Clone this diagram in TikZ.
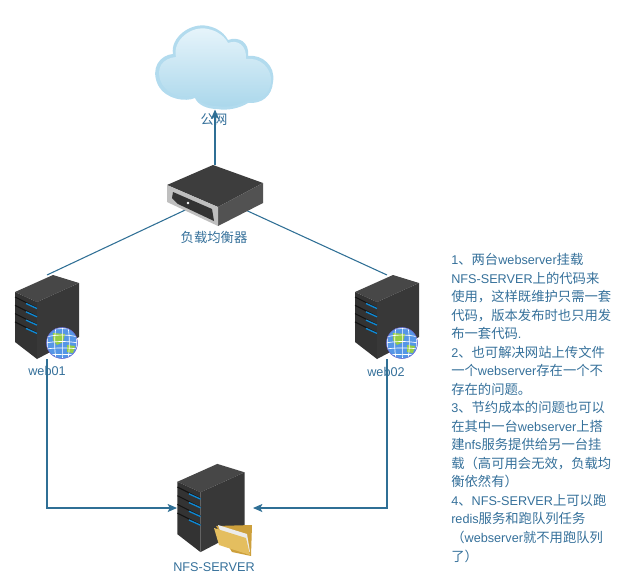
\documentclass[tikz,border=0pt]{standalone}
\usepackage{fontspec}
\setmainfont{Noto Sans CJK SC}
\newfontfamily\lat[Scale=0.95]{Liberation Sans}
\usetikzlibrary{arrows.meta}
\definecolor{linkblue}{HTML}{2F6F95}
\definecolor{textblue}{HTML}{35709A}
\tikzset{
  iconbox/.style={inner sep=0pt,outer sep=0pt},
  conn/.style={draw=linkblue,line width=0.8pt},
  tip/.style={-{Stealth[length=7pt,width=6pt,inset=1.5pt]}},
  caption/.style={inner sep=0.75pt,text=textblue,font=\fontsize{10}{12}\selectfont},
  pics/rack/.style={code={
    \begin{scope}[yscale=-1]
    %top, left and right faces
    \fill[fill=black!72] (6,-42) -- (-32,-25) -- (-10,-15) -- (32,-34) -- cycle;
    \fill[fill=black!80] (-32,-25) -- (-10,-15) -- (-10,42) -- (-32,25) -- cycle;
    \fill[fill=black!78] (-10,-15) -- (32,-34) -- (32,20) -- (-10,42) -- cycle;
    \foreach \k in {0,1,2,3}{
      \draw[black!92,line width=0.8pt] (-32,-20+\k*8.3) -- (-10,-9+\k*8.3);
      \draw[cyan!70!blue,line width=1pt] (-21,-13.5+\k*8.3) -- (-10,-8.5+\k*8.3);
    }
    \end{scope}
  }},
  pics/globe/.style={code={
    \begin{scope}[yscale=-1]
    \begin{scope}
    \clip (0,0) circle (15.5);
    \fill[fill={rgb,255:red,85;green,150;blue,230}] (-16,-16) rectangle (16,16);
    \fill[fill={rgb,255:red,150;green,205;blue,70}] (-9,-10) -- (3,-9) -- (1,-1) -- (-5,2) -- (-9,-3) -- cycle;
    \fill[fill={rgb,255:red,150;green,205;blue,70}] (5,2) -- (13,3) -- (11,10) -- (5,9) -- cycle;
    \foreach \k in {-12,-6,0,6,12}{
      \draw[white,line width=0.5pt] (-16,\k) .. controls (-6,\k*1.1-2) and (6,\k*1.1-2) .. (16,\k);
      \draw[white,line width=0.5pt] (\k,-16) .. controls (\k*1.3,-6) and (\k*1.3,6) .. (\k,16);
    }
    \end{scope}
    \draw[black!30!blue!60,line width=0.4pt] (0,0) circle (15.5);
    \end{scope}
  }}
}
\begin{document}
\begin{tikzpicture}[x=0.75pt,y=0.75pt,yscale=-1,xscale=1]
\useasboundingbox (0,0) rectangle (627,582);

%Icon places
\node[iconbox,minimum width=88.5pt,minimum height=62.25pt] (cloud) at (215,68) {};
\node[iconbox,minimum width=72pt,minimum height=46.5pt] (balancer) at (215,196) {};
\node[iconbox,minimum width=48pt,minimum height=63pt] (web01) at (47,317) {};
\node[iconbox,minimum width=48pt,minimum height=63pt] (web02) at (387,317) {};
\node[iconbox,minimum width=57pt,minimum height=70.5pt] (nfs) at (215,508) {};

% Text Node
\node[caption] (publicnet) at (214,120) {公网};
\node[caption] (balancertext) at (214,237) {负载均衡器};
\node[caption] (web01text) at (47,371) {\lat web01};
\node[caption] (web02text) at (386,372) {\lat web02};
\node[caption] (nfstext) at (214,567) {\lat NFS-SERVER};

%Links
\draw[conn,tip] (balancer.north) -- (cloud.south);
\draw[conn] (balancer.center) -- (web01.north);
\draw[conn] (balancer.center) -- (web02.north);
\draw[conn,tip] (web01.south) |- (nfs.west);
\draw[conn,tip] (web02.south) |- (nfs.east);

%Cloud
\fill[fill={rgb,255:red,178;green,219;blue,238}] (158,85) .. controls (150,68) and (160,55) .. (173,54) .. controls (170,38) and (190,22) .. (208,26) .. controls (218,28) and (225,34) .. (228,40) .. controls (238,36) and (250,42) .. (248,56) .. controls (262,54) and (276,66) .. (273,82) .. controls (272,96) and (262,104) .. (248,103) .. controls (240,108) and (228,111) .. (217,109) .. controls (207,109) and (198,105) .. (195,98) .. controls (186,102) and (166,100) .. (158,85) -- cycle;
\shade[top color={rgb,255:red,232;green,245;blue,251},bottom color={rgb,255:red,170;green,215;blue,235}] (161,82) .. controls (155,68) and (163,58) .. (176,57) .. controls (172,40) and (192,25) .. (208,29) .. controls (218,31) and (225,37) .. (228,43) .. controls (238,39) and (247,46) .. (246,59) .. controls (260,57) and (272,68) .. (271,82) .. controls (270,94) and (260,101) .. (248,100) .. controls (240,105) and (228,108) .. (217,106) .. controls (207,106) and (198,102) .. (195,95) .. controls (186,99) and (168,97) .. (161,82) -- cycle;

%Load balancer
\fill[fill=black!76] (213,165) -- (167,185) -- (218,207) -- (263,183) -- cycle;
\fill[fill=black!68] (218,207) -- (263,183) -- (263,203) -- (218,226) -- cycle;
\fill[fill=black!25] (167,185) -- (218,207) -- (218,226) -- (167,202) -- cycle;
\fill[fill=black!80] (173,192) -- (212,209) -- (214,221) -- (178,204) -- (172,198) -- cycle;
\fill[fill=white] (188,203) circle (1.3);

%Servers
\pic at (web01) {rack};
\pic at (web02) {rack};
\pic[scale=1.05] at (211,508) {rack};
\pic at (62,343) {globe};
\pic at (402,343) {globe};

%Folder
\fill[fill={rgb,255:red,205;green,160;blue,60}] (216,526) -- (252,525) -- (251,556) -- (232,552) -- cycle;
\fill[fill=white!92!black] (218,525) -- (247,534) -- (250,552) -- (224,542) -- cycle;
\fill[fill={rgb,255:red,228;green,190;blue,95}] (214,528) -- (246,538) -- (250,555) -- (219,545) -- cycle;

% Text Node
\node[caption,anchor=north west,align=left,font=\fontsize{10}{13.9}\selectfont] (notes) at (450,252) {%
{\lat 1}、两台{\lat webserver}挂载\\
{\lat NFS-SERVER}上的代码来\\
使用，这样既维护只需一套\\
代码，版本发布时也只用发\\
布一套代码{\lat .}\\
{\lat 2}、也可解决网站上传文件\\
一个{\lat webserver}存在一个不\\
存在的问题。\\
{\lat 3}、节约成本的问题也可以\\
在其中一台{\lat webserver}上搭\\
建{\lat nfs}服务提供给另一台挂\\
载（高可用会无效，负载均\\
衡依然有）\\
{\lat 4}、{\lat NFS-SERVER}上可以跑\\
{\lat redis}服务和跑队列任务\\
（{\lat webserver}就不用跑队列\\
了）};

\end{tikzpicture}
\end{document}
